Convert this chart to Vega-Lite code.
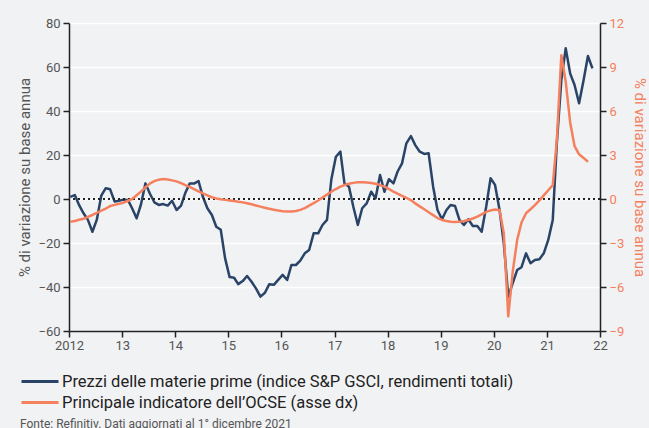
{
 "$schema": "https://vega.github.io/schema/vega-lite/v6.json",
 "width": 531,
 "height": 308,
 "autosize": "none",
 "padding": {"left": 69, "top": 23, "right": 49, "bottom": 97},
 "background": "#f1f2f4",
 "config": {
  "font": "Roboto",
  "view": {"stroke": null},
  "legend": {"orient": "none", "legendX": -40.5, "legendY": 347, "direction": "vertical", "symbolType": "M-1.85,0H1.85", "symbolSize": 400, "symbolStrokeWidth": 3, "labelFontSize": 16.5, "labelColor": "#222222", "labelLimit": 700, "rowPadding": 1, "labelOffset": 10.5, "title": null}
 },
 "title": {"text": "Fonte: Refinitiv. Dati aggiornati al 1° dicembre 2021", "orient": "bottom", "anchor": "start", "frame": "group", "fontSize": 12, "fontWeight": "normal", "color": "#555555", "dx": -49, "offset": 8, "baseline": "top"},
 "data": {"values": [
  {"d":"2012-01-10","p":1.0,"o":-1.55},{"d":"2012-02-10","p":1.8,"o":-1.5},{"d":"2012-03-10","p":-2.7,"o":-1.42},{"d":"2012-04-10","p":-6.5,"o":-1.35},{"d":"2012-05-10","p":-9.5,"o":-1.22},{"d":"2012-06-10","p":-14.9,"o":-1.09},{"d":"2012-07-10","p":-9.5,"o":-0.95},{"d":"2012-08-10","p":1.5,"o":-0.8},{"d":"2012-09-10","p":4.9,"o":-0.65},{"d":"2012-10-10","p":4.4,"o":-0.48},{"d":"2012-11-10","p":-1.2,"o":-0.4},{"d":"2012-12-10","p":-0.8,"o":-0.33},
  {"d":"2013-01-10","p":-0.3,"o":-0.25},{"d":"2013-02-10","p":-0.5,"o":-0.12},{"d":"2013-03-10","p":-4.2,"o":0.0},{"d":"2013-04-10","p":-8.8,"o":0.25},{"d":"2013-05-10","p":-2.5,"o":0.5},{"d":"2013-06-10","p":7.1,"o":0.8},{"d":"2013-07-10","p":2.5,"o":1.05},{"d":"2013-08-10","p":-1.5,"o":1.22},{"d":"2013-09-10","p":-2.7,"o":1.32},{"d":"2013-10-10","p":-2.3,"o":1.36},{"d":"2013-11-10","p":-3.0,"o":1.33},{"d":"2013-12-10","p":-0.8,"o":1.27},
  {"d":"2014-01-10","p":-5.0,"o":1.2},{"d":"2014-02-10","p":-3.0,"o":1.08},{"d":"2014-03-10","p":2.6,"o":0.95},{"d":"2014-04-10","p":7.0,"o":0.82},{"d":"2014-05-10","p":7.0,"o":0.68},{"d":"2014-06-10","p":8.2,"o":0.52},{"d":"2014-07-10","p":1.0,"o":0.38},{"d":"2014-08-10","p":-4.2,"o":0.25},{"d":"2014-09-10","p":-7.3,"o":0.12},{"d":"2014-10-10","p":-12.6,"o":0.04},{"d":"2014-11-10","p":-14.0,"o":-0.02},{"d":"2014-12-10","p":-27.0,"o":-0.06},
  {"d":"2015-01-10","p":-35.5,"o":-0.1},{"d":"2015-02-10","p":-35.8,"o":-0.14},{"d":"2015-03-10","p":-38.7,"o":-0.18},{"d":"2015-04-10","p":-37.3,"o":-0.23},{"d":"2015-05-10","p":-35.0,"o":-0.29},{"d":"2015-06-10","p":-37.6,"o":-0.36},{"d":"2015-07-10","p":-40.6,"o":-0.44},{"d":"2015-08-10","p":-44.4,"o":-0.52},{"d":"2015-09-10","p":-42.6,"o":-0.6},{"d":"2015-10-10","p":-38.7,"o":-0.67},{"d":"2015-11-10","p":-39.0,"o":-0.73},{"d":"2015-12-10","p":-36.8,"o":-0.79},
  {"d":"2016-01-10","p":-34.5,"o":-0.83},{"d":"2016-02-10","p":-36.8,"o":-0.85},{"d":"2016-03-10","p":-30.0,"o":-0.85},{"d":"2016-04-10","p":-30.0,"o":-0.82},{"d":"2016-05-10","p":-28.0,"o":-0.74},{"d":"2016-06-10","p":-24.7,"o":-0.62},{"d":"2016-07-10","p":-23.2,"o":-0.45},{"d":"2016-08-10","p":-15.6,"o":-0.28},{"d":"2016-09-10","p":-15.6,"o":-0.1},{"d":"2016-10-10","p":-11.8,"o":0.1},{"d":"2016-11-10","p":-9.5,"o":0.3},{"d":"2016-12-10","p":9.0,"o":0.5},
  {"d":"2017-01-10","p":19.2,"o":0.68},{"d":"2017-02-10","p":21.5,"o":0.84},{"d":"2017-03-10","p":7.1,"o":0.95},{"d":"2017-04-10","p":5.6,"o":1.04},{"d":"2017-05-10","p":-3.5,"o":1.1},{"d":"2017-06-10","p":-11.8,"o":1.14},{"d":"2017-07-10","p":-4.2,"o":1.15},{"d":"2017-08-10","p":-2.0,"o":1.13},{"d":"2017-09-10","p":3.3,"o":1.09},{"d":"2017-10-10","p":0.3,"o":1.04},{"d":"2017-11-10","p":10.9,"o":0.95},{"d":"2017-12-10","p":3.3,"o":0.84},
  {"d":"2018-01-10","p":9.0,"o":0.68},{"d":"2018-02-10","p":7.1,"o":0.5},{"d":"2018-03-10","p":12.4,"o":0.36},{"d":"2018-04-10","p":16.2,"o":0.22},{"d":"2018-05-10","p":25.3,"o":0.07},{"d":"2018-06-10","p":28.6,"o":-0.07},{"d":"2018-07-10","p":24.5,"o":-0.3},{"d":"2018-08-10","p":21.5,"o":-0.5},{"d":"2018-09-10","p":20.5,"o":-0.7},{"d":"2018-10-10","p":20.8,"o":-0.9},{"d":"2018-11-10","p":5.6,"o":-1.1},{"d":"2018-12-10","p":-5.0,"o":-1.3},
  {"d":"2019-01-10","p":-9.2,"o":-1.43},{"d":"2019-02-10","p":-5.0,"o":-1.5},{"d":"2019-03-10","p":-2.7,"o":-1.55},{"d":"2019-04-10","p":-3.2,"o":-1.56},{"d":"2019-05-10","p":-9.5,"o":-1.55},{"d":"2019-06-10","p":-11.8,"o":-1.5},{"d":"2019-07-10","p":-9.2,"o":-1.43},{"d":"2019-08-10","p":-12.3,"o":-1.33},{"d":"2019-09-10","p":-12.3,"o":-1.2},{"d":"2019-10-10","p":-14.9,"o":-1.05},{"d":"2019-11-10","p":-3.5,"o":-0.88},{"d":"2019-12-10","p":9.4,"o":-0.78},
  {"d":"2020-01-10","p":6.4,"o":-0.72},{"d":"2020-02-10","p":-5.0,"o":-0.75},{"d":"2020-03-10","p":-20.0,"o":-2.34},{"d":"2020-04-10","p":-44.4,"o":-8.0},{"d":"2020-05-10","p":-38.3,"o":-5.0},{"d":"2020-06-10","p":-32.3,"o":-2.8},{"d":"2020-07-10","p":-31.0,"o":-1.6},{"d":"2020-08-10","p":-24.7,"o":-0.97},{"d":"2020-09-10","p":-29.2,"o":-0.7},{"d":"2020-10-10","p":-27.7,"o":-0.42},{"d":"2020-11-10","p":-27.4,"o":-0.1},{"d":"2020-12-10","p":-24.7,"o":0.25},
  {"d":"2021-01-10","p":-18.6,"o":0.6},{"d":"2021-02-10","p":-9.5,"o":0.95},{"d":"2021-03-10","p":25.3,"o":4.0},{"d":"2021-04-10","p":54.0,"o":9.8},{"d":"2021-05-10","p":68.5,"o":8.0},{"d":"2021-06-10","p":57.0,"o":5.2},{"d":"2021-07-10","p":51.8,"o":3.6},{"d":"2021-08-10","p":43.5,"o":3.05},{"d":"2021-09-10","p":54.0,"o":2.8},{"d":"2021-10-10","p":65.0,"o":2.54},{"d":"2021-11-10","p":59.4}
 ]},
 "layer": [
  {
   "mark": {"type": "line", "strokeWidth": 2.5, "strokeJoin": "round"},
   "encoding": {
    "x": {"field": "d", "type": "temporal", "scale": {"domain": ["2012-01-01", "2022-01-01"]},
     "axis": {"title": null, "grid": false, "tickCount": {"interval": "year", "step": 1}, "labelExpr": "year(datum.value) == 2012 ? '2012' : timeFormat(datum.value, '%y')", "domainColor": "#222222", "domainWidth": 1.5, "tickColor": "#222222", "tickWidth": 1.5, "tickSize": 6, "labelColor": "#555555", "labelFontSize": 13, "labelPadding": 2, "labelFlush": false}},
    "y": {"field": "p", "type": "quantitative", "scale": {"domain": [-60, 80], "nice": false},
     "axis": {"title": "% di variazione su base annua", "values": [-60, -40, -20, 0, 20, 40, 60, 80], "grid": true, "gridColor": "#ffffff", "gridWidth": 1.5, "domainColor": "#222222", "domainWidth": 1.5, "tickColor": "#222222", "tickWidth": 1.5, "tickSize": 6, "labelColor": "#555555", "labelFontSize": 13, "labelPadding": 3, "titleColor": "#555555", "titleFontSize": 15, "titleFontWeight": "normal", "titlePadding": 5}},
    "color": {"datum": "Prezzi delle materie prime (indice S&P GSCI, rendimenti totali)", "scale": {"domain": ["Prezzi delle materie prime (indice S&P GSCI, rendimenti totali)", "Principale indicatore dell’OCSE (asse dx)"], "range": ["#2a4468", "#f4805e"]}}
   }
  },
  {
   "data": {"values": [{"z": 0}]},
   "mark": {"type": "rule", "strokeDash": [2, 3], "strokeWidth": 2, "color": "#222222"},
   "encoding": {
    "y": {"field": "z", "type": "quantitative", "scale": {"domain": [-60, 80], "nice": false}, "axis": null}
   }
  },
  {
   "mark": {"type": "line", "strokeWidth": 2.5, "strokeJoin": "round"},
   "encoding": {
    "x": {"field": "d", "type": "temporal"},
    "y": {"field": "o", "type": "quantitative", "scale": {"domain": [-9, 12], "nice": false},
     "axis": {"orient": "right", "title": "% di variazione su base annua", "values": [-9, -6, -3, 0, 3, 6, 9, 12], "grid": false, "domainColor": "#222222", "domainWidth": 1.5, "tickColor": "#222222", "tickWidth": 1.5, "tickSize": 6, "labelColor": "#f4805e", "labelFontSize": 13, "labelPadding": 3, "titleColor": "#f4805e", "titleFontSize": 15, "titleFontWeight": "normal", "titlePadding": 8}},
    "color": {"datum": "Principale indicatore dell’OCSE (asse dx)"}
   }
  }
 ],
 "resolve": {"scale": {"y": "independent"}}
}
